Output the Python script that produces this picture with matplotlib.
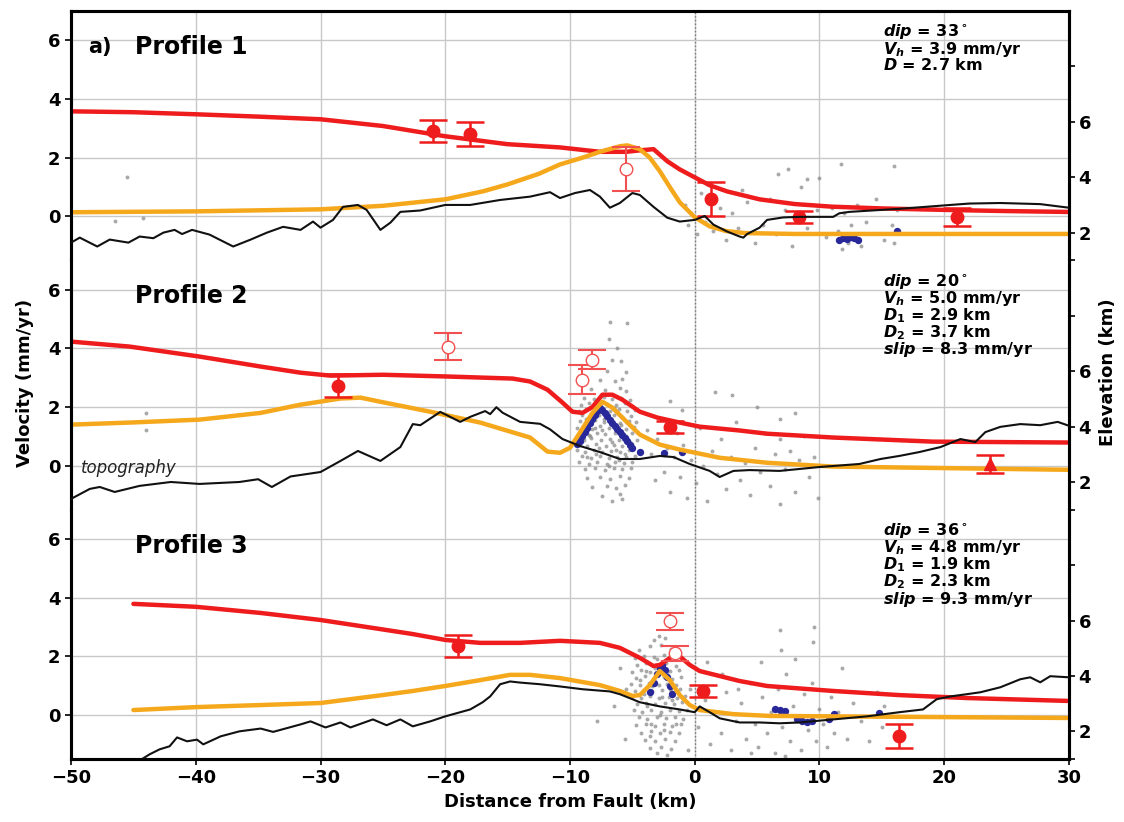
import matplotlib
matplotlib.use("Agg")
import matplotlib.pyplot as plt

plt.rcParams['font.family'] = 'DejaVu Sans'
plt.rcParams['font.weight'] = 'bold'
plt.rcParams['axes.labelweight'] = 'bold'
plt.rcParams['mathtext.fontset'] = 'custom'
plt.rcParams['mathtext.it'] = 'DejaVu Sans:italic:bold'
plt.rcParams['mathtext.rm'] = 'DejaVu Sans:bold'
plt.rcParams['mathtext.bf'] = 'DejaVu Sans:bold'

# ---------------- data ----------------
x_ticks = [-50, -40, -30, -20, -10, 0, 10, 20, 30]
vel_ticks = [0, 2, 4, 6]
elev_ticks = [1, 2, 4, 6, 8]
elev_labels = ['', '2', '4', '6', '']

titles = ['Profile 1', 'Profile 2', 'Profile 3']
params = [
    [r'$dip$ = 33$^\circ$', r'$V_h$ = 3.9 mm/yr', r'$D$ = 2.7 km'],
    [r'$dip$ = 20$^\circ$', r'$V_h$ = 5.0 mm/yr', r'$D_1$ = 2.9 km',
     r'$D_2$ = 3.7 km', r'$slip$ = 8.3 mm/yr'],
    [r'$dip$ = 36$^\circ$', r'$V_h$ = 4.8 mm/yr', r'$D_1$ = 1.9 km',
     r'$D_2$ = 2.3 km', r'$slip$ = 9.3 mm/yr'],
]

# model total velocity (red)
red1_x = [-50, -45, -40, -35, -30, -25, -20, -15, -10.8, -7.6, -5.5, -4.4, -3.3, -2.2, -1.2, 0, 1.2, 2.6, 5.2, 8, 11, 15, 20, 25, 30]
red1_v = [3.58, 3.55, 3.48, 3.40, 3.31, 3.08, 2.73, 2.46, 2.35, 2.2, 2.2, 2.25, 2.29, 1.88, 1.6, 1.33, 1.06, 0.85, 0.58, 0.42, 0.33, 0.27, 0.22, 0.18, 0.15]
red2_x = [-50, -45.3, -39.7, -34.8, -31.6, -29.2, -25, -19.8, -14.6, -13.2, -11.8, -10.6, -9.8, -9.0, -8.2, -7.4, -6.6, -5.8, -4.4, -3.0, -1.2, 0.4, 3.6, 5.8, 11.1, 19.1, 30]
red2_v = [4.23, 4.06, 3.72, 3.38, 3.17, 3.07, 3.1, 3.04, 2.97, 2.87, 2.59, 2.15, 1.84, 1.8, 2.0, 2.42, 2.42, 2.25, 1.84, 1.64, 1.47, 1.33, 1.2, 1.09, 0.96, 0.82, 0.79]
red3_x = [-45, -40, -34.8, -30, -25.2, -22.6, -20, -17.2, -14, -10.8, -7.6, -6, -4.4, -3.3, -2.8, -2.2, -1.8, -1.2, -0.4, 0.4, 2, 3.6, 5.8, 11.1, 16.4, 21.8, 30]
red3_v = [3.79, 3.69, 3.48, 3.24, 2.93, 2.76, 2.56, 2.46, 2.46, 2.53, 2.46, 2.29, 1.95, 1.67, 1.71, 1.88, 2.0, 2.0, 1.71, 1.5, 1.33, 1.16, 0.99, 0.82, 0.68, 0.58, 0.48]

# model vertical velocity (orange)
org1_x = [-50, -40, -30, -25, -20, -17, -15, -12.5, -10.8, -9, -7.6, -6, -5.4, -4.4, -3.6, -2.8, -2, -1.2, 0, 1.2, 2.5, 4, 8, 15, 30]
org1_v = [0.14, 0.17, 0.24, 0.36, 0.58, 0.85, 1.09, 1.45, 1.77, 2.0, 2.2, 2.39, 2.42, 2.29, 2.0, 1.54, 1.0, 0.48, -0.03, -0.34, -0.5, -0.57, -0.6, -0.6, -0.6]
org2_x = [-50, -45.3, -39.7, -34.8, -31.6, -28.4, -26.8, -25.2, -21.2, -17.2, -13.2, -11.8, -10.8, -10, -9.2, -8.2, -7.4, -6.6, -5.4, -4.4, -2.8, -1.2, 2, 3.6, 5.8, 11.1, 30]
org2_v = [1.4, 1.47, 1.57, 1.8, 2.08, 2.29, 2.32, 2.18, 1.84, 1.47, 0.96, 0.48, 0.44, 0.61, 1.13, 1.8, 2.18, 1.98, 1.47, 1.06, 0.72, 0.55, 0.27, 0.2, 0.1, -0.03, -0.14]
org3_x = [-45, -40, -34.8, -30, -25.2, -22.6, -20, -17.2, -14.8, -13.2, -10.8, -7.6, -6, -5, -4.4, -3.6, -2.8, -2, -1.2, -0.4, 0.4, 3.1, 6, 30]
org3_v = [0.17, 0.27, 0.34, 0.41, 0.67, 0.82, 0.99, 1.19, 1.37, 1.37, 1.26, 1.02, 0.82, 0.65, 0.68, 1.02, 1.5, 1.19, 0.68, 0.34, 0.17, 0.03, -0.03, -0.1]

# topography (km)
topo1_x = [-50, -49.3, -47.9, -46.9, -45.4, -44.5, -43.4, -42.6, -41.7, -41.1, -40.3, -38.9, -37, -35.6, -34.3, -33, -31.6, -30.6, -30, -29, -28.2, -27, -26.3, -25.2, -24.4, -23.6, -22, -20, -18, -15.6, -13.2, -11.6, -10.8, -9.6, -8.4, -7.6, -6.8, -6, -5, -4.4, -3.3, -2.2, -1.2, 0, 0.8, 1.5, 2.6, 3.6, 3.9, 4.2, 5.2, 5.8, 7.1, 8.4, 11.1, 11.6, 12.4, 16.4, 20.5, 22, 24.5, 27.7, 30]
topo1_e = [1.64, 1.82, 1.5, 1.75, 1.64, 1.86, 1.8, 2.0, 2.1, 1.95, 2.1, 1.93, 1.5, 1.75, 2.0, 2.21, 2.1, 2.4, 2.18, 2.46, 2.93, 3.0, 2.82, 2.1, 2.36, 2.75, 2.8, 3.0, 3.0, 3.18, 3.3, 3.46, 3.25, 3.43, 3.54, 3.3, 2.9, 3.07, 3.43, 3.36, 2.93, 2.54, 2.4, 2.46, 2.6, 2.29, 2.04, 1.86, 1.82, 1.95, 2.18, 2.46, 2.55, 2.57, 2.57, 2.7, 2.75, 2.86, 3.0, 3.05, 3.07, 3.03, 2.9]
topo2_x = [-50, -48.5, -47.7, -46.5, -44.5, -42, -39.7, -36.5, -35, -33.9, -32.4, -30, -28.4, -27, -25.2, -23.6, -22.6, -22, -20.4, -18.8, -18, -16.8, -16.4, -15.9, -15.4, -14, -12.4, -11.6, -10.6, -9.2, -7.6, -6, -4.4, -2.8, -1.7, -0.4, 1.2, 2.0, 3.1, 4.4, 6.8, 10, 13.2, 14.9, 16.4, 18, 19.7, 21.3, 22.5, 23.3, 24.5, 26.1, 27.7, 29.1, 30]
topo2_e = [1.39, 1.75, 1.82, 1.64, 1.86, 2.0, 1.93, 2.0, 2.1, 1.82, 2.2, 2.36, 2.76, 3.12, 2.76, 3.26, 4.09, 4.05, 4.53, 4.17, 4.35, 4.56, 4.45, 4.7, 4.5, 4.17, 4.1, 3.9, 3.55, 3.3, 3.08, 2.83, 2.83, 2.94, 2.9, 2.65, 2.4, 2.18, 2.4, 2.43, 2.4, 2.54, 2.65, 2.83, 2.94, 3.08, 3.26, 3.55, 3.44, 3.8, 3.99, 4.09, 4.05, 4.17, 4.03]
topo3_x = [-44.2, -43.7, -42.9, -42.1, -41.5, -40.7, -39.9, -39.4, -38, -36.5, -34.8, -33.8, -31.6, -30.8, -29.6, -28.4, -27.6, -25.8, -24.7, -23.6, -22.6, -21.2, -20, -18, -17, -16.4, -15.6, -14.8, -14, -12.4, -10.8, -9, -6.8, -6, -5, -4.4, -2.8, -1.2, 0, 0.4, 1.2, 2, 3.6, 5.2, 6.8, 8.4, 11.1, 13.8, 16.4, 18.3, 19.4, 20.5, 21.8, 22.9, 24.5, 26.1, 26.9, 27.7, 28.5, 30]
topo3_e = [1.03, 1.17, 1.35, 1.46, 1.78, 1.64, 1.7, 1.53, 1.82, 2.0, 2.1, 1.98, 2.25, 2.36, 2.14, 2.32, 2.14, 2.43, 2.22, 2.43, 2.18, 2.36, 2.54, 2.79, 3.05, 3.26, 3.7, 3.8, 3.76, 3.7, 3.62, 3.52, 3.44, 3.34, 3.16, 3.05, 2.9, 2.79, 2.69, 2.9, 2.69, 2.47, 2.32, 2.32, 2.29, 2.32, 2.43, 2.54, 2.69, 2.79, 3.16, 3.26, 3.34, 3.41, 3.59, 3.88, 3.95, 3.77, 3.99, 3.95]

# GPS (filled / open) velocities with 1-sigma errors
gps1_x, gps1_v, gps1_e = [-21.0, -18.0, 1.3, 8.4, 21.0], [2.9, 2.8, 0.58, -0.03, -0.03], [0.38, 0.4, 0.58, 0.2, 0.3]
opn1_x, opn1_v, opn1_e = [-5.5], [1.6], [0.75]
gps2_x, gps2_v, gps2_e = [-28.6, -2.0], [2.73, 1.33], [0.38, 0.2]
opn2_x, opn2_v, opn2_e = [-19.8, -8.2, -9.0], [4.06, 3.62, 2.93], [0.45, 0.33, 0.5]
tri2_x, tri2_v, tri2_e = [23.7], [0.05], [0.3]
gps3_x, gps3_v, gps3_e = [-19.0, 0.66, 16.4], [2.36, 0.82, -0.72], [0.38, 0.2, 0.4]
opn3_x, opn3_v, opn3_e = [-2.0, -1.6], [3.2, 2.1], [0.29, 0.25]

# InSAR pixels (gray)
ins1_x = [-0.8, -0.5, -0.3, 0.2, 0.5, 0.8, 1.5, 2.0, 2.5, 3.0, 3.5, 4.2, 4.8, 5.5, 6.0, 6.5, 7.2, 7.8, 8.5, 9.0, 9.8, 10.5, 11.0, 11.5, 11.8, 12.0, 12.3, 12.5, 12.8, 13.0, 13.3, 13.7, 14.5, 15.2, 15.8, 16.0, 16.2, 16.0, 7.5, -45.5, -46.5, -44.2, 10.0, 3.8, 1.0, 11.7, 6.7, 9.0]
ins1_v = [0.4, -0.3, 0.1, -0.6, 0.8, -0.2, -0.5, 0.3, -0.8, 0.1, -0.4, 0.5, -0.9, -0.3, 0.6, -0.6, 0.2, -1.0, 1.0, -0.4, 0.2, -0.7, 0.3, -0.5, -1.1, 0.1, -0.9, -0.3, -0.6, 0.4, -1.0, -0.2, 0.6, -0.8, -0.3, -0.9, 0.2, 1.7, 1.6, 1.35, -0.15, -0.05, 1.3, 0.9, 1.1, 1.77, 1.43, 1.26]
ins2_x = [-8.9, -8.1, -7.3, -6.6, -5.9, -5.2, -9.1, -8.5, -7.9, -7.0, -6.3, -5.6, -5.0, -9.3, -8.7, -8.0, -7.5, -6.8, -6.1, -5.4, -4.8,
          -9.0, -8.4, -7.7, -7.1, -6.5, -5.8, -5.1, -9.2, -8.6, -8.0, -7.3, -6.7, -6.0, -5.3, -4.7, -9.4, -8.8, -8.2, -7.6, -6.9, -6.2, -5.5, -4.9,
          -9.1, -8.5, -7.8, -7.2, -6.4, -5.7, -5.0, -9.5, -8.9, -8.3, -7.5, -6.8, -6.1, -5.4, -4.6, -9.2, -8.6, -7.9, -7.1, -6.5, -5.8, -5.0,
          -9.4, -8.8, -8.1, -7.4, -6.7, -6.0, -5.3, -4.5, -9.0, -8.3, -7.6, -6.9, -6.2, -5.5, -4.8, -9.3, -8.5, -7.8, -7.0, -6.4, -5.7, -5.0,
          -8.8, -8.0, -7.2, -6.5, -5.8, -5.1, -8.6, -7.6, -6.8, -6.0, -5.3, -8.2, -7.0, -6.3, -5.6, -7.4, -6.0, -5.8, -6.6,
          -8.3, -7.2, -6.0, -5.5, -7.6, -6.4, -5.8, -7.0, -5.5, -6.6, -5.9, -6.2, -6.9, -6.8, -5.4,
          -8.7, -7.4, -6.6, -5.9, -7.9, -6.1, -8.4, -7.0, -6.3, -5.5, -8.0, -6.9, -7.7, -6.5, -5.6, -8.6, -7.3, -6.2, -5.2, -7.9,
          -3.8, -3.5, -3.2, -3.0, -2.7, -2.5, -2.2, -2.0, -1.7, -1.4, -1.2, -0.9, -0.6, -0.3, 0.1, 0.4, 0.7, 1.0, 1.4, 1.8, 2.1, 2.5, 2.9, 3.3, 3.6,
          4.0, 4.4, 4.8, 5.2, 5.6, 6.0, 6.4, 6.8, 6.8, 6.8, 7.2, 7.6, 8.0, 8.4, 8.8, 9.2, 9.6, 9.9, 3.0, 5.0, -2.0, -1.0, 1.6, 8.0, -44.0, -44.0]
ins2_v = [2.32, 2.27, 2.35, 2.26, 2.31, 2.24, 2.08, 2.13, 2.05, 2.12, 2.07, 2.14, 2.02, 1.88, 1.93, 1.86, 1.95, 1.87, 1.92, 1.85, 1.9,
          1.72, 1.66, 1.74, 1.68, 1.73, 1.65, 1.7, 1.52, 1.47, 1.55, 1.49, 1.53, 1.46, 1.54, 1.48, 1.28, 1.33, 1.26, 1.34, 1.27, 1.32, 1.25, 1.31,
          1.12, 1.06, 1.13, 1.07, 1.11, 1.05, 1.1, 0.92, 0.87, 0.93, 0.86, 0.91, 0.88, 0.94, 0.86, 0.72, 0.67, 0.73, 0.66, 0.71, 0.68, 0.74,
          0.52, 0.47, 0.53, 0.46, 0.51, 0.48, 0.54, 0.47, 0.32, 0.27, 0.33, 0.26, 0.31, 0.28, 0.34, 0.12, 0.07, 0.13, 0.06, 0.11, 0.08, 0.14,
          -0.12, -0.08, -0.14, -0.07, -0.11, -0.09, -0.42, -0.38, -0.45, -0.36, -0.41, -0.72, -0.68, -0.75, -0.66, -1.02, -0.97, -1.15, -1.22,
          2.62, 2.58, 2.65, 2.55, 2.92, 2.88, 2.95, 3.22, 3.18, 3.62, 3.57, 4.02, 4.33, 4.9, 4.85,
          1.6, 1.2, 0.8, 1.4, 0.4, 0.2, 1.0, 1.8, 0.55, 1.0, 1.3, 0.0, 0.6, 1.95, 0.4, 0.3, 1.6, 1.2, 0.8, 1.8,
          1.2, 0.4, -0.5, 0.9, 1.6, -0.2, 0.6, -0.9, 0.3, 1.1, -0.4, 0.7, -1.1, 0.2, -0.6, 1.3, 0.0, -1.2, 0.5, -0.3, 0.9, -0.8, 0.3, 1.5, -0.5,
          0.1, -1.0, 0.6, -0.2, 1.1, -0.7, 0.4, -1.3, 0.9, 1.6, -0.1, 0.5, -0.9, 0.2, 1.0, -0.4, 0.3, -1.1, 2.4, 2.0, 2.2, 1.9, 2.5, 1.8, 1.8, 1.2]
ins3_x = [-4.5, -3.6, -2.7, -1.9, -4.8, -4.1, -3.3, -2.5, -1.7, -4.6, -3.9, -3.1, -2.3, -1.5, -5.0, -4.3, -3.6, -2.8, -2.0, -1.3,
          -4.7, -4.0, -3.3, -2.5, -1.8, -1.1, -5.1, -4.4, -3.7, -2.9, -2.2, -1.5, -4.8, -4.1, -3.4, -2.6, -1.9, -1.2,
          -5.0, -4.3, -3.6, -2.9, -2.1, -1.4, -0.8, -4.6, -3.9, -3.2, -2.4, -1.7, -1.0, -4.9, -4.2, -3.5, -2.7, -2.0, -1.3, -0.6,
          -4.5, -3.8, -3.0, -2.3, -1.6, -0.9, -4.7, -3.9, -3.2, -2.5, -1.8, -1.1, -4.3, -3.5, -2.8, -2.0, -1.3,
          -4.0, -3.2, -2.4, -1.6, -3.6, -2.7, -1.9, -3.0, -2.2, -2.9, -2.4, -3.3, -7.8, -6.5, -5.6, -5.5, -6.0,
          -3.4, -2.6, -3.8, -2.2, -3.0, -4.1, -2.8, -3.5, -1.8, -4.4, -3.2, -2.5, -3.9, -2.0, -3.6, -1.5,
          0.3, 0.8, 1.2, 1.6, 2.1, 2.5, 2.9, 3.3, 3.7, 4.1, 4.4, 4.8, 5.1, 5.4, 5.8, 6.1, 6.4, 6.7, 7.0, 7.3, 7.6, 7.9, 8.2, 8.5, 8.8,
          9.1, 9.4, 9.7, 10.0, 10.3, 10.6, 10.9, 11.2, 11.5, 11.8, 12.2, 12.7, 13.3, 14.0, 14.6, 15.0, 15.2, 6.9, 9.5, 5.3, 8.0, 7.2, 4.5,
          3.5, 2.2, 1.0, -0.5, -0.4, 6.8, 9.6]
ins3_v = [2.2, 2.35, 2.4, 2.25, 1.95, 2.02, 1.97, 2.05, 1.93, 1.72, 1.76, 1.7, 1.78, 1.68, 1.48, 1.52, 1.46, 1.55, 1.49, 1.53,
          1.27, 1.32, 1.25, 1.3, 1.24, 1.3, 1.06, 1.02, 1.08, 1.03, 1.07, 1.01, 0.83, 0.87, 0.81, 0.86, 0.82, 0.88,
          0.62, 0.58, 0.64, 0.57, 0.63, 0.59, 0.64, 0.38, 0.42, 0.36, 0.41, 0.37, 0.43, 0.16, 0.12, 0.18, 0.11, 0.17, 0.13, 0.18,
          -0.08, -0.12, -0.06, -0.11, -0.07, -0.13, -0.35, -0.31, -0.37, -0.32, -0.36, -0.3, -0.6, -0.56, -0.62, -0.57, -0.61,
          -0.85, -0.9, -0.83, -0.88, -1.12, -1.08, -1.15, -1.3, -1.35, 2.7, 2.62, 2.55, -0.2, 0.3, -0.8, 0.9, 1.6,
          1.0, 0.6, 0.3, 1.4, 1.9, 0.7, 0.0, -0.3, 0.5, 1.2, 1.6, -0.5, 1.5, 0.9, -0.7, -0.3,
          -0.4, 0.5, -1.0, 0.1, -0.6, 0.8, -1.2, -0.2, 0.4, -0.8, 1.1, -0.3, -1.1, 0.6, -0.6, 0.1, -1.3, 0.9, -0.4, 1.4, -0.9, 0.3, -0.2, -1.2, 0.7,
          -0.5, 1.1, -0.9, 0.2, -0.3, -1.1, 0.6, -0.6, 0.1, 1.6, -0.8, 0.4, -0.2, -0.9, 0.8, -0.4, 0.3, 2.2, 2.5, 1.8, 1.9, -1.4, -1.3,
          0.9, 1.4, 1.8, -1.2, 0.9, 2.9, 3.0]

# binned InSAR (blue)
bin1_x = [11.6, 11.9, 12.2, 12.5, 12.8, 13.1, 16.2]
bin1_v = [-0.8, -0.75, -0.78, -0.7, -0.75, -0.8, -0.5]
bin2_x = [-9.4, -9.2, -9.0, -8.8, -8.6, -8.4, -8.2, -8.0, -7.8, -7.6, -7.4, -7.2, -7.0, -6.8, -6.6, -6.4, -6.2, -6.0, -5.8, -5.6, -5.4, -5.2, -5.0, -4.4, -2.5, -1.0]
bin2_v = [0.75, 0.85, 1.0, 1.15, 1.3, 1.45, 1.6, 1.72, 1.85, 1.95, 1.9, 1.8, 1.68, 1.57, 1.45, 1.35, 1.25, 1.15, 1.05, 0.95, 0.85, 0.72, 0.6, 0.45, 0.44, 0.48]
bin3_x = [-3.6, -3.3, -3.0, -2.8, -2.6, -2.4, -2.2, -2.0, -1.8, 6.4, 6.8, 7.2, 8.2, 8.6, 9.0, 9.4, 10.8, 11.2, 14.8]
bin3_v = [0.8, 1.1, 1.4, 1.6, 1.7, 1.55, 1.3, 1.0, 0.7, 0.2, 0.18, 0.15, -0.15, -0.22, -0.25, -0.2, -0.15, 0.05, 0.07]

profiles = [
    dict(rx=red1_x, rv=red1_v, ox=org1_x, ov=org1_v, tx=topo1_x, te=topo1_e,
         gx=gps1_x, gv=gps1_v, ge=gps1_e, qx=opn1_x, qv=opn1_v, qe=opn1_e,
         ix=ins1_x, iv=ins1_v, bx=bin1_x, bv=bin1_v),
    dict(rx=red2_x, rv=red2_v, ox=org2_x, ov=org2_v, tx=topo2_x, te=topo2_e,
         gx=gps2_x, gv=gps2_v, ge=gps2_e, qx=opn2_x, qv=opn2_v, qe=opn2_e,
         ix=ins2_x, iv=ins2_v, bx=bin2_x, bv=bin2_v),
    dict(rx=red3_x, rv=red3_v, ox=org3_x, ov=org3_v, tx=topo3_x, te=topo3_e,
         gx=gps3_x, gv=gps3_v, ge=gps3_e, qx=opn3_x, qv=opn3_v, qe=opn3_e,
         ix=ins3_x, iv=ins3_v, bx=bin3_x, bv=bin3_v),
]

RED = '#ee1c1c'
ORANGE = '#f5a81c'
LW_SPINE = 2.2

fig = plt.figure(figsize=(11.24, 8.22), dpi=100)
gs = fig.add_gridspec(3, 1, left=0.0632, right=0.951, top=0.9866, bottom=0.0766, hspace=0)

axes = []
for i, p in enumerate(profiles):
    ax = fig.add_subplot(gs[i], sharex=axes[0] if axes else None)
    axes.append(ax)
    ax.set_xlim(-50, 30)
    ax.set_ylim(-1.5, 7)
    ax.set_xticks(x_ticks)
    ax.set_yticks(vel_ticks)
    ax.grid(True, color='#c8c8c8', lw=1.0, zorder=0)
    ax.set_axisbelow(True)
    ax.axvline(0, color='#777777', ls=':', lw=1.0, zorder=1)

    ax.scatter(p['ix'], p['iv'], s=8, color='#8c8c8c', alpha=0.75, lw=0, zorder=2)
    ax.scatter(p['bx'], p['bv'], s=28, color='#28289a', lw=0, zorder=3)
    ax.plot(p['rx'], p['rv'], color=RED, lw=3.2, zorder=4, solid_capstyle='round')
    ax.plot(p['ox'], p['ov'], color=ORANGE, lw=3.2, zorder=5, solid_capstyle='round')

    ax.errorbar(p['qx'], p['qv'], yerr=p['qe'], fmt='o', ms=9, mfc='white', mec='#f25050',
                ecolor='#f25050', elinewidth=1.5, capsize=10, capthick=1.5, zorder=6)
    ax.errorbar(p['gx'], p['gv'], yerr=p['ge'], fmt='o', ms=9, color=RED,
                ecolor=RED, elinewidth=1.8, capsize=10, capthick=1.8, zorder=7)
    if i == 1:
        ax.errorbar(tri2_x, tri2_v, yerr=tri2_e, fmt='^', ms=9, color=RED,
                    ecolor=RED, elinewidth=1.8, capsize=10, capthick=1.8, zorder=7)

    ax.tick_params(axis='y', labelsize=13, length=4, width=1.2, direction='out')
    for lab in ax.get_yticklabels():
        lab.set_fontweight('bold')
    if i < 2:
        ax.tick_params(axis='x', length=0, labelbottom=False)
    else:
        ax.tick_params(axis='x', labelsize=13, length=4, width=1.2, direction='out')
        ax.set_xlabel('Distance from Fault (km)', fontsize=13, fontweight='bold', labelpad=4)

    for s in ['left', 'right', 'top', 'bottom']:
        ax.spines[s].set_linewidth(LW_SPINE)
    if i > 0:
        ax.spines['top'].set_visible(False)
    if i < 2:
        ax.spines['bottom'].set_visible(False)

    ax2 = ax.twinx()
    ax2.plot(p['tx'], p['te'], color='#111111', lw=1.5, zorder=3)
    ax2.set_ylim(1, 10)
    ax2.set_yticks(elev_ticks)
    ax2.set_yticklabels(elev_labels, fontsize=13, fontweight='bold')
    ax2.tick_params(axis='y', length=4, width=1.2, direction='out', pad=3)
    for s in ['left', 'right', 'top', 'bottom']:
        ax2.spines[s].set_linewidth(LW_SPINE)
    if i > 0:
        ax2.spines['top'].set_visible(False)
    if i < 2:
        ax2.spines['bottom'].set_visible(False)

    # titles
    if i == 0:
        ax.text(-48.6, 5.77, 'a)', fontsize=15, fontweight='bold', va='center', ha='left', zorder=10)
    ax.text(-44.9, 5.77, titles[i], fontsize=17, fontweight='bold', va='center', ha='left', zorder=10)
    ax.text(15.1, 0.955, '\n'.join(params[i]), transform=ax.get_xaxis_transform(),
            fontsize=11.5, fontweight='bold', va='top', ha='left', linespacing=0.88, zorder=10)
    if i == 1:
        ax.text(-49.2, -0.07, 'topography', fontsize=12, fontstyle='italic', fontweight='normal',
                va='center', ha='left', color='#222222', zorder=10)

fig.text(0.022, 0.534, 'Velocity (mm/yr)', rotation=90, fontsize=13, fontweight='bold',
         va='center', ha='center')
fig.text(0.986, 0.547, 'Elevation (km)', rotation=90, fontsize=13, fontweight='bold',
         va='center', ha='center')

fig.savefig('out.png', dpi=100)
